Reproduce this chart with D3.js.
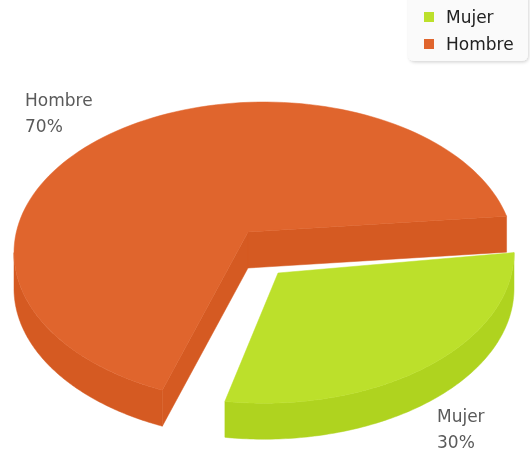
<!DOCTYPE html>
<html><head><meta charset="utf-8">
<script src="https://cdn.jsdelivr.net/npm/d3@7"></script>
<style>html,body{margin:0;padding:0;background:#fff}svg{display:block;filter:blur(0.4px)}text{font-family:"DejaVu Sans",sans-serif}</style>
</head><body><svg id="c" width="530" height="455"></svg>
<script>
const categories = ["Mujer", "Hombre"];
const values = [30, 70];
const topColors = ["#bce02b", "#e0652d"];
const sideColors = ["#afd31f", "#d55a22"];
// layout of the perspective pie
const ellipse = {cx: 264, cy: 252.6, rx: 250, ry: 150.6};
const depth = 36;
const rotation = -7;               // degrees: where the first slice starts
const insets = [[7, -2], [13, -7]]; // degrees trimmed off each slice by the explode gap
const apexes = [[278, 273], [248, 232]];
const labelPos = [[437, 421.5], [25, 105.5]];

const svg = d3.select("#c");
const defs = svg.append("defs");
const f = defs.append("filter").attr("id","sh").attr("x","-20%").attr("y","-20%").attr("width","140%").attr("height","140%");
f.append("feDropShadow").attr("dx",1).attr("dy",1.5).attr("stdDeviation",1.5).attr("flood-color","#000").attr("flood-opacity",0.16);

const deg = d3.scaleLinear().domain([0, 2*Math.PI]).range([0, 360]);
const pie = d3.pie().sort(null).value(d => d)(values);
const slices = pie.map((p, i) => ({
  i,
  a0: deg(p.startAngle) + rotation + insets[i][0],
  a1: deg(p.endAngle) + rotation + insets[i][1],
  apex: apexes[i]
}));
const pt = (a, dy = 0) => {
  const r = a * Math.PI / 180;
  return [ellipse.cx + ellipse.rx * Math.cos(r), ellipse.cy + ellipse.ry * Math.sin(r) + dy];
};
const arcPts = (a0, a1, dy = 0) => d3.range(0, 121).map(k => pt(a0 + (a1 - a0) * k / 120, dy));
const line = d3.line();

const g = svg.append("g");
// sides
slices.forEach(s => {
  const c = sideColors[s.i];
  // outer rim: only the part facing the viewer
  const lo = Math.max(s.a0, 0), hi = Math.min(s.a1, 180);
  if (hi > lo) {
    const up = arcPts(lo, hi), dn = arcPts(lo, hi, depth).reverse();
    g.append("path").attr("d", line(up.concat(dn)) + "Z").attr("fill", c).attr("stroke", c).attr("stroke-width", .5);
  }
  // cut faces of the big slice are visible
  if (s.i === 1) {
    [s.a0, s.a1].forEach(a => {
      const e = pt(a), A = s.apex;
      g.append("path").attr("d", line([A, e, [e[0], e[1] + depth], [A[0], A[1] + depth]]) + "Z")
        .attr("fill", c).attr("stroke", c).attr("stroke-width", .5);
    });
  }
});
// tops
slices.forEach(s => {
  const c = topColors[s.i];
  g.append("path").attr("d", line([s.apex].concat(arcPts(s.a0, s.a1))) + "Z").attr("fill", c).attr("stroke", c).attr("stroke-width", .5);
});
// pie labels
slices.forEach(s => {
  const t = svg.append("text").attr("fill", "#5a5a5a").attr("font-size", 17);
  t.append("tspan").attr("x", labelPos[s.i][0]).attr("y", labelPos[s.i][1]).text(categories[s.i]);
  t.append("tspan").attr("x", labelPos[s.i][0]).attr("y", labelPos[s.i][1] + 26.5).text(values[s.i] + "%");
});
// legend
const lg = svg.append("g");
lg.append("rect").attr("x", 408).attr("y", -8).attr("width", 120).attr("height", 69).attr("rx", 6).attr("fill", "#fafafa").attr("filter", "url(#sh)");
categories.forEach((c, i) => {
  lg.append("rect").attr("x", 424).attr("y", 12 + i * 27).attr("width", 10).attr("height", 10).attr("fill", topColors[i]);
  lg.append("text").attr("x", 446).attr("y", 23 + i * 27).attr("fill", "#222").attr("font-size", 17).text(c);
});
</script></body></html>
